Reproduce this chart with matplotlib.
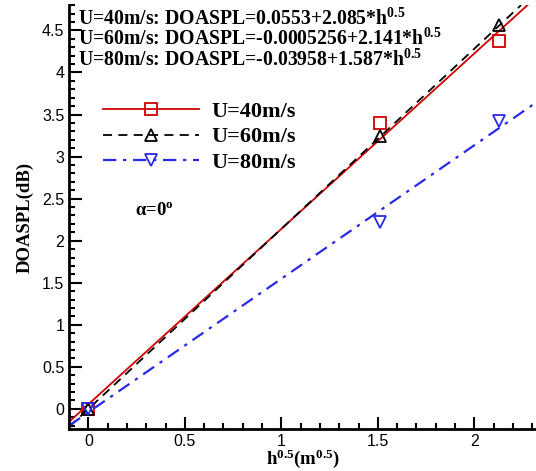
import matplotlib.pyplot as plt
from matplotlib.ticker import MultipleLocator, FormatStrFormatter
from matplotlib.legend_handler import HandlerTuple

plt.rcParams['mathtext.fontset'] = 'custom'
plt.rcParams['mathtext.rm'] = 'Liberation Serif'
plt.rcParams['mathtext.bf'] = 'Liberation Serif:bold'
plt.rcParams['mathtext.it'] = 'Liberation Serif:italic:bold'
plt.rcParams['mathtext.default'] = 'bf'

# measured points
x_pts = [0.0, 1.51, 2.13]
y_40 = [0.0, 3.40, 4.37]
y_60 = [0.0, 3.25, 4.56]
y_80 = [0.0, 2.22, 3.42]

# linear fits DOASPL = a + b*h^0.5
speeds = ['40', '60', '80']
intercepts = [0.0553, -0.0005256, -0.03958]
slopes = [2.085, 2.141, 1.587]
ys = [y_40, y_60, y_80]

colors = ['#d00000', 'black', '#2a2ae6']
styles = ['-', (0, (5, 3.5)), (0, (6, 3, 1.5, 3))]
widths = [1.3, 1.3, 1.6]
markers = ['s', '^', 'v']

serif = 'Liberation Serif'

fig = plt.figure(figsize=(5.36, 4.71), dpi=100)
ax = fig.add_axes([0.129, 0.089, 0.871, 0.900])

handles = []
labels = []
for i in range(3):
    ln = ax.axline((0, intercepts[i]), slope=slopes[i], color=colors[i],
                   ls=styles[i], lw=widths[i])
    pts, = ax.plot(x_pts, ys[i], ls='none', marker=markers[i], ms=9,
                   mfc='none', mec=colors[i], mew=1.3)
    handles.append((ln, pts))
    labels.append('U=%sm/s' % speeds[i])

ax.set_xlim(-0.1, 2.32)
ax.set_ylim(-0.24, 4.8)

ax.xaxis.set_major_locator(MultipleLocator(0.5))
ax.xaxis.set_minor_locator(MultipleLocator(0.1))
ax.yaxis.set_major_locator(MultipleLocator(0.5))
ax.yaxis.set_minor_locator(MultipleLocator(0.1))
ax.xaxis.set_major_formatter(FormatStrFormatter('%g'))
ax.yaxis.set_major_formatter(FormatStrFormatter('%g'))
ax.tick_params(which='both', direction='in', width=1.5)
ax.tick_params(which='major', length=9, labelsize=11.5)
ax.tick_params(which='minor', length=4.5)
for lab in ax.get_xticklabels() + ax.get_yticklabels():
    lab.set_family('Liberation Sans')

for s in ['top', 'right']:
    ax.spines[s].set_visible(False)
for s in ['left', 'bottom']:
    ax.spines[s].set_linewidth(2)

ax.set_xlabel(r'h$^{0.5}$(m$^{0.5}$)', family=serif, weight='bold',
              fontsize=13.5, labelpad=-1)
ax.set_ylabel('DOASPL(dB)', family=serif, weight='bold', fontsize=13.5,
              labelpad=6)

eq_y = [0.992, 0.944, 0.896]
for i in range(3):
    txt = 'U=%sm/s: DOASPL=%s+%s*h$^{0.5}$' % (speeds[i], intercepts[i], slopes[i])
    ax.text(0.02, eq_y[i], txt, transform=ax.transAxes, family=serif,
            weight='bold', fontsize=14.2, va='top', ha='left')

ax.text(0.24, 2.36, r'$\alpha$=0$^{o}$', family=serif, weight='bold',
        fontsize=13.5, ha='left', va='center')

ax.legend(handles, labels, handler_map={tuple: HandlerTuple(ndivide=1)},
          loc='upper left', bbox_to_anchor=(0.03, 0.82), frameon=False,
          handlelength=4.3, handletextpad=0.55, labelspacing=0.22,
          prop={'family': serif, 'weight': 'bold', 'size': 16}, numpoints=1)

fig.savefig('out.png', dpi=100)
